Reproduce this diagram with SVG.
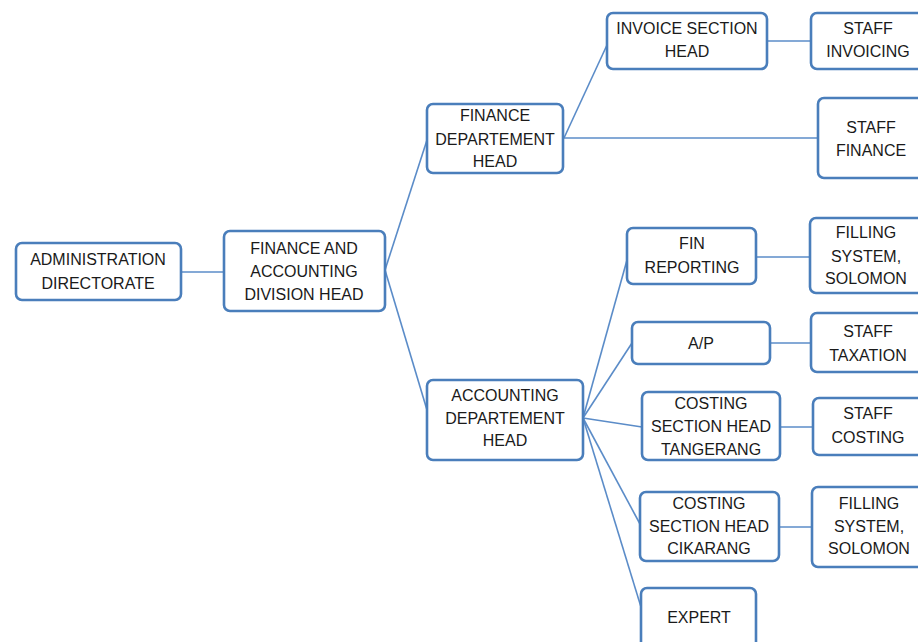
<svg xmlns="http://www.w3.org/2000/svg" width="918" height="642" viewBox="0 0 918 642">
<style>
.box{fill:#fff;stroke:#4a7ebb;stroke-width:2.6}
.t{font-family:"Liberation Sans",Arial,sans-serif;font-size:16px;fill:#1a1a1a;text-anchor:middle}
.c{stroke:#5b8cc8;stroke-width:1.6;fill:none}
</style>
<rect width="918" height="642" fill="#fff"/>
<g id="connectors">
<line class="c" x1="181" y1="272" x2="224" y2="272"/>
<line class="c" x1="385" y1="270" x2="427" y2="140"/>
<line class="c" x1="385" y1="270" x2="427" y2="410"/>
<line class="c" x1="564" y1="138" x2="607" y2="45"/>
<line class="c" x1="564" y1="138" x2="818" y2="138"/>
<line class="c" x1="767" y1="41" x2="811" y2="41"/>
<line class="c" x1="583" y1="418" x2="627" y2="260"/>
<line class="c" x1="583" y1="418" x2="632" y2="343"/>
<line class="c" x1="583" y1="418" x2="642" y2="427"/>
<line class="c" x1="583" y1="418" x2="640" y2="524"/>
<line class="c" x1="583" y1="418" x2="641" y2="607"/>
<line class="c" x1="756" y1="257" x2="810" y2="257"/>
<line class="c" x1="770" y1="343" x2="811" y2="343"/>
<line class="c" x1="780" y1="427" x2="813" y2="427"/>
<line class="c" x1="779" y1="527" x2="812" y2="527"/>
</g>
<g id="admin"><rect class="box" x="16" y="243" width="165" height="57" rx="6"/>
<text class="t" x="98" y="265">ADMINISTRATION</text><text class="t" x="98" y="289">DIRECTORATE</text></g>
<g id="fa"><rect class="box" x="224" y="231" width="161" height="80" rx="6"/>
<text class="t" x="304" y="254">FINANCE AND</text><text class="t" x="304" y="277">ACCOUNTING</text><text class="t" x="304" y="300">DIVISION HEAD</text></g>
<g id="fdh"><rect class="box" x="427" y="104" width="136" height="69" rx="6"/>
<text class="t" x="495" y="121">FINANCE</text><text class="t" x="495" y="145">DEPARTEMENT</text><text class="t" x="495" y="167">HEAD</text></g>
<g id="invoice"><rect class="box" x="607" y="13" width="160" height="56" rx="6"/>
<text class="t" x="687" y="34">INVOICE SECTION</text><text class="t" x="687" y="57">HEAD</text></g>
<g id="staffinv"><rect class="box" x="811" y="13" width="114" height="56" rx="6"/>
<text class="t" x="868" y="34">STAFF</text><text class="t" x="868" y="57">INVOICING</text></g>
<g id="stafffin"><rect class="box" x="818" y="98" width="110" height="80" rx="6"/>
<text class="t" x="871" y="133">STAFF</text><text class="t" x="871" y="156">FINANCE</text></g>
<g id="adh"><rect class="box" x="427" y="380" width="156" height="80" rx="6"/>
<text class="t" x="505" y="401">ACCOUNTING</text><text class="t" x="505" y="424">DEPARTEMENT</text><text class="t" x="505" y="446">HEAD</text></g>
<g id="finrep"><rect class="box" x="627" y="228" width="129" height="56" rx="6"/>
<text class="t" x="692" y="249">FIN</text><text class="t" x="692" y="273">REPORTING</text></g>
<g id="filling1"><rect class="box" x="810" y="218" width="115" height="75" rx="6"/>
<text class="t" x="866" y="238">FILLING</text><text class="t" x="866" y="262">SYSTEM,</text><text class="t" x="866" y="284">SOLOMON</text></g>
<g id="ap"><rect class="box" x="632" y="322" width="138" height="42" rx="6"/>
<text class="t" x="701" y="349">A/P</text></g>
<g id="stafftax"><rect class="box" x="811" y="313" width="114" height="59" rx="6"/>
<text class="t" x="868" y="337">STAFF</text><text class="t" x="868" y="361">TAXATION</text></g>
<g id="costt"><rect class="box" x="642" y="392" width="138" height="68" rx="6"/>
<text class="t" x="711" y="409">COSTING</text><text class="t" x="711" y="432">SECTION HEAD</text><text class="t" x="711" y="455">TANGERANG</text></g>
<g id="staffcost"><rect class="box" x="813" y="398" width="112" height="57" rx="6"/>
<text class="t" x="868" y="419">STAFF</text><text class="t" x="868" y="443">COSTING</text></g>
<g id="costc"><rect class="box" x="640" y="492" width="139" height="69" rx="6"/>
<text class="t" x="709" y="509">COSTING</text><text class="t" x="709" y="532">SECTION HEAD</text><text class="t" x="709" y="554">CIKARANG</text></g>
<g id="filling2"><rect class="box" x="812" y="487" width="113" height="80" rx="6"/>
<text class="t" x="869" y="509">FILLING</text><text class="t" x="869" y="532">SYSTEM,</text><text class="t" x="869" y="554">SOLOMON</text></g>
<g id="expert"><rect class="box" x="641" y="588" width="115" height="64" rx="6"/>
<text class="t" x="699" y="623">EXPERT</text></g>
</svg>
